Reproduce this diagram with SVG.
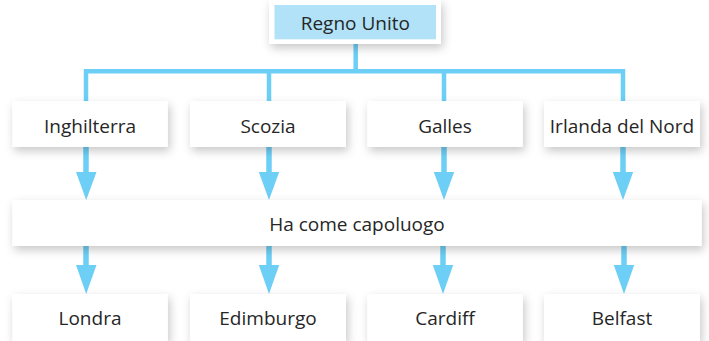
<svg xmlns="http://www.w3.org/2000/svg" width="709" height="341" viewBox="0 0 709 341">
<defs>
<filter id="sh" x="-20%" y="-50%" width="140%" height="220%">
<feDropShadow dx="2" dy="4" stdDeviation="5" flood-color="#000" flood-opacity="0.22"/>
</filter>
<style>
.box{fill:#fff;filter:url(#sh)}
.top{fill:#b1e2f8}
.t{font-family:"Open Sans","Noto Sans",sans-serif;font-size:19px;fill:#262626;text-anchor:middle}
.ln{stroke:#6dcff6;stroke-width:4.5;fill:none}
.sh{stroke:#6dcff6;stroke-width:5.5;fill:none}
.ah{fill:#6dcff6}
</style>
</defs>
<rect width="709" height="341" fill="#fff"/>
<g id="connectors">
<path class="ln" d="M355.7 40V71.3M86 71.3H623M86 69V101M269 69V101M444 69V101M623 69V101"/>
<path class="sh" d="M86 146V174M269 146V174M444 146V174M623 146V174M86 245V267M269 245V267M443 245V267M624 245V267"/>
<path class="ah" d="M76 172H96.5L86.2 200ZM258.8 172H279.2L269 200ZM433.8 172H454.2L444 200ZM612.8 172H633.2L623 200ZM76 265H96.5L86.2 294ZM258.8 265H279.2L269 294ZM432.8 265H453.2L443 294ZM613.8 265H634.2L624 294Z"/>
</g>
<g id="regno-unito">
<rect class="box" x="269" y="0" width="172" height="44"/>
<rect class="top" x="274.5" y="5" width="161.5" height="34.3"/>
<text class="t" x="355.3" y="29.5">Regno Unito</text>
</g>
<g id="inghilterra">
<rect class="box" x="12.3" y="101" width="155.5" height="46"/>
<text class="t" x="90" y="132.5">Inghilterra</text>
</g>
<g id="scozia">
<rect class="box" x="190" y="101" width="156" height="46"/>
<text class="t" x="268" y="132.5">Scozia</text>
</g>
<g id="galles">
<rect class="box" x="367.3" y="101" width="155.5" height="46"/>
<text class="t" x="445" y="132.5">Galles</text>
</g>
<g id="irlanda-del-nord">
<rect class="box" x="544" y="101" width="156" height="46"/>
<text class="t" x="622" y="132.5">Irlanda del Nord</text>
</g>
<g id="ha-come-capoluogo">
<rect class="box" x="12.3" y="200" width="689.4" height="46"/>
<text class="t" x="357" y="230.5">Ha come capoluogo</text>
</g>
<g id="londra">
<rect class="box" x="12.3" y="294" width="155.5" height="47"/>
<text class="t" x="90" y="325">Londra</text>
</g>
<g id="edimburgo">
<rect class="box" x="190" y="294" width="156" height="47"/>
<text class="t" x="268" y="325">Edimburgo</text>
</g>
<g id="cardiff">
<rect class="box" x="367.3" y="294" width="155.5" height="47"/>
<text class="t" x="445" y="325">Cardiff</text>
</g>
<g id="belfast">
<rect class="box" x="544" y="294" width="156" height="47"/>
<text class="t" x="622" y="325">Belfast</text>
</g>
</svg>
